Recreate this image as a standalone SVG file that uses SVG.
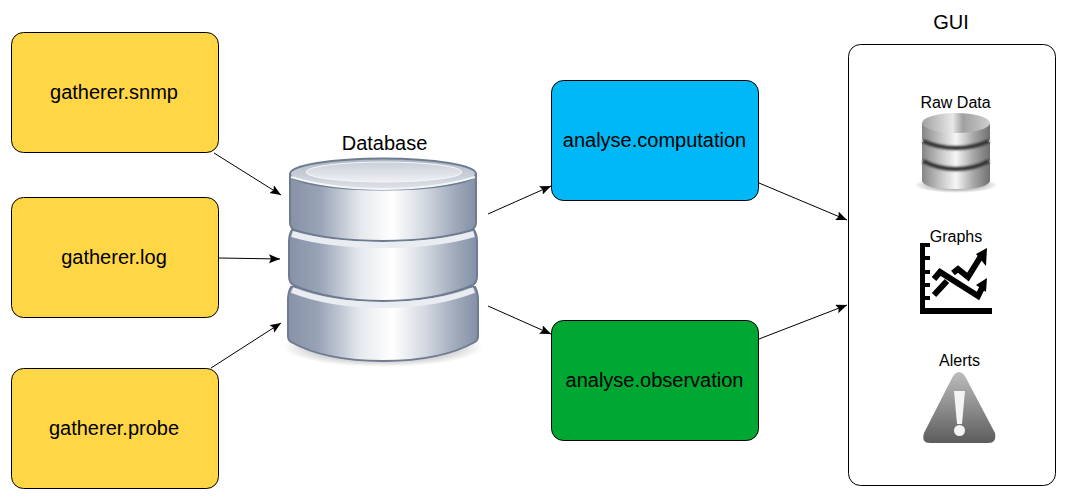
<svg xmlns="http://www.w3.org/2000/svg" width="1066" height="499" viewBox="0 0 1066 499">
<style>
.box{stroke:#000;stroke-width:1}
.t{font-family:"Liberation Sans",Arial,sans-serif;fill:#000;text-anchor:middle}
.l{font-size:20px}
.s{font-size:16px}
.c{fill:none;stroke:#000;stroke-width:1;marker-end:url(#a)}
.k{fill:none;stroke:#000;stroke-width:6;stroke-linejoin:miter}
.seg{fill:url(#metal);stroke:#6f7b90;stroke-width:2}
.rim{fill:none;stroke:#e9ecf0;stroke-width:6}
.g{fill:url(#gray)}
.gd{fill:none;stroke:#333;stroke-width:4;filter:url(#soft)}
</style>
<defs>
<marker id="a" markerUnits="userSpaceOnUse" markerWidth="12" markerHeight="10" refX="11" refY="4.500" orient="auto"><path d="M0 0L11 4.500L0 9L2 4.500Z" fill="#000"/></marker>
<filter id="soft" x="-10%" y="-50%" width="120%" height="200%"><feGaussianBlur stdDeviation="0.8"/></filter>
<linearGradient id="metal" x1="0" x2="1" y1="0" y2="0">
<stop offset="0" stop-color="#8792a8"/><stop offset=".16" stop-color="#98a3b6"/><stop offset=".38" stop-color="#e6e9ee"/><stop offset=".55" stop-color="#fff"/><stop offset=".72" stop-color="#d4d9e1"/><stop offset=".88" stop-color="#a1abbc"/><stop offset="1" stop-color="#8390a6"/>
</linearGradient>
<linearGradient id="top" x1="0" x2="0" y1="0" y2="1"><stop offset="0" stop-color="#aeb7c5"/><stop offset="1" stop-color="#dfe3e9"/></linearGradient>
<linearGradient id="inner" x1="0" x2="0" y1="0" y2="1"><stop offset="0" stop-color="#c9cfd9"/><stop offset="1" stop-color="#eef0f3"/></linearGradient>
<linearGradient id="gray" x1="0" x2="1" y1="0" y2="0">
<stop offset="0" stop-color="#858585"/><stop offset=".25" stop-color="#c0c0c0"/><stop offset=".5" stop-color="#f6f6f6"/><stop offset=".75" stop-color="#a8a8a8"/><stop offset="1" stop-color="#707070"/>
</linearGradient>
<linearGradient id="graytop" x1="0" x2="1" y1="0" y2="0"><stop offset="0" stop-color="#a0a0a0"/><stop offset=".45" stop-color="#e8e8e8"/><stop offset=".6" stop-color="#a0a0a0"/><stop offset="1" stop-color="#cfcfcf"/></linearGradient>
<linearGradient id="warn" x1="0" x2="0" y1="0" y2="1"><stop offset="0" stop-color="#bdbdbd"/><stop offset="1" stop-color="#5c5c5c"/></linearGradient>
<radialGradient id="shadow"><stop offset="0" stop-color="#222" stop-opacity=".75"/><stop offset="1" stop-color="#222" stop-opacity="0"/></radialGradient>
</defs>
<rect width="1066" height="499" fill="#fff"/>

<g id="connectors">
<path class="c" d="M214 153L281 195"/>
<path class="c" d="M219 258L280 259"/>
<path class="c" d="M211 368L281 323"/>
<path class="c" d="M488 214L551 186"/>
<path class="c" d="M488 306L551 334"/>
<path class="c" d="M759 183L847 220"/>
<path class="c" d="M759 339L847 305"/>
</g>

<g id="gatherer-snmp"><rect class="box" x="11.500" y="32.500" width="207" height="120" rx="12" fill="#ffd746"/><text class="t l" x="114" y="99">gatherer.snmp</text></g>
<g id="gatherer-log"><rect class="box" x="11.500" y="197.500" width="207" height="120" rx="12" fill="#ffd746"/><text class="t l" x="114" y="264">gatherer.log</text></g>
<g id="gatherer-probe"><rect class="box" x="11.500" y="368.500" width="207" height="120" rx="12" fill="#ffd746"/><text class="t l" x="114" y="435">gatherer.probe</text></g>

<g id="database">
<text class="t l" x="384.500" y="150">Database</text>
<ellipse cx="383" cy="347" rx="100" ry="20" fill="url(#shadow)"/>
<path class="seg" d="M291 287Q288 292 288 300V336Q288 340 291 342Q325 361 383 361Q441 361 475 342Q478 340 478 336V300Q478 292 475 287Z"/>
<path class="seg" d="M292 230Q289 234 289 242V276Q289 282 293 285Q330 301 383 301Q436 301 473 285Q477 282 477 276V242Q477 234 474 230Z"/>
<path class="seg" d="M290 174V222Q290 227 294 230Q330 241 383 241Q436 241 472 230Q476 227 476 222V174Z"/>
<path class="rim" d="M292 234Q330 245 383 245Q436 245 474 234"/>
<path class="rim" d="M292 290Q330 305 383 305Q436 305 474 290"/>
<ellipse cx="383" cy="174" rx="93" ry="15.500" fill="url(#top)" stroke="#6f7b90" stroke-width="2"/>
<path d="M291 177Q330 189 383 189Q436 189 475 177" fill="none" stroke="#f4f5f7" stroke-width="2"/>
<ellipse cx="384" cy="172" rx="78" ry="10" fill="url(#inner)" stroke="#f6f7f9"/>
</g>

<g id="analyse-computation"><rect class="box" x="551.500" y="80.500" width="207" height="120" rx="12" fill="#00b8f5"/><text class="t l" x="654.500" y="147">analyse.computation</text></g>
<g id="analyse-observation"><rect class="box" x="551.500" y="320.500" width="207" height="120" rx="12" fill="#00a833"/><text class="t l" x="654.500" y="387">analyse.observation</text></g>

<g id="gui">
<text class="t l" x="951" y="29">GUI</text>
<rect class="box" x="848.500" y="44.500" width="207" height="441" rx="12" fill="#fff"/>
</g>

<g id="raw-data">
<text class="t s" x="955.500" y="108">Raw Data</text>
<ellipse cx="956" cy="185" rx="42" ry="8" fill="url(#shadow)"/>
<path class="g" d="M922 162V181Q925 189 956 189Q987 189 990 181V162Z"/>
<path class="g" d="M922 142V160Q925 169 956 169Q987 169 990 160V142Z"/>
<path class="g" d="M922 123V139Q925 148 956 148Q987 148 990 139V123Z"/>
<path class="gd" d="M923 141Q938 148 956 148Q974 148 989 141"/>
<path class="gd" d="M923 161Q938 169 956 169Q974 169 989 161"/>
<ellipse cx="956" cy="123" rx="34" ry="10" fill="url(#graytop)"/>
</g>

<g id="graphs">
<text class="t s" x="956" y="242">Graphs</text>
<path d="M920 243H925V308H992V314H920Z"/>
<path d="M925 245H930M925 258H930M925 272H930M925 285H930M925 298H930" stroke="#000" stroke-width="4"/>
<path class="k" d="M934 279L940 272L978 296L982 288"/>
<path class="k" d="M934 295L947 281"/>
<path class="k" d="M953 273L958 269L968 277L981 256"/>
<path d="M976 254L987 248L986 266Z"/>
<path d="M976 285L987 278L986 292Z"/>
</g>

<g id="alerts">
<text class="t s" x="959.500" y="366">Alerts</text>
<path d="M959 372Q963 372 966 378L995 433Q997 443 988 443H930Q921 443 924 433L952 378Q955 372 959 372Z" fill="url(#warn)"/>
<path d="M954 391H965L962 424H957Z" fill="#f4f4f4"/>
<circle cx="959.500" cy="430.500" r="5.500" fill="#f4f4f4"/>
</g>
</svg>
